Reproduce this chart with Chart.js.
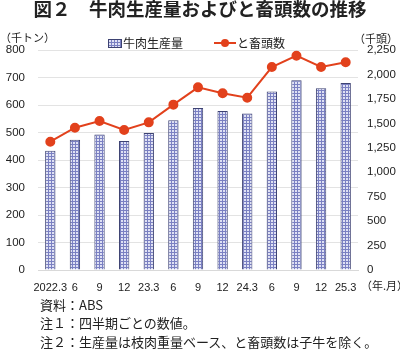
<!DOCTYPE html>
<html>
<head>
<meta charset="utf-8">
<script src="https://cdn.jsdelivr.net/npm/chart.js@4"></script>
<style>
  body { margin: 0; background: #fff; }
  #wrap { position: relative; width: 400px; height: 353px; color: #222; }
  #chart { position: absolute; left: 0; top: 0; }
  .txt { position: absolute; white-space: nowrap; font-family: "Noto Sans CJK JP", sans-serif; }
  #title { left: 0; width: 400px; top: -2px; text-align: center; font-size: 18.5px; font-weight: bold; line-height: 20px; }
  .unit { font-size: 11px; }
  .leg { font-size: 12px; line-height: 14px; }
  .note { left: 40px; font-size: 13px; line-height: 16px; }
  .mark { position: absolute; }
</style>
</head>
<body>
<div id="wrap">
  <canvas id="chart" width="400" height="353"></canvas>
  <div class="txt" id="title">図２　牛肉生産量およびと畜頭数の推移</div>
  <div class="txt unit" style="left:0px; top:29px;">（千トン）</div>
  <div class="txt unit" style="left:354px; top:30px;">（千頭）</div>
  <div class="txt unit" style="left:361px; top:277px;">（年.月）</div>
  <canvas class="mark" id="mark-bar" width="14" height="9" style="left:108px; top:39px;"></canvas>
  <div class="txt leg" style="left:123px; top:36px;">牛肉生産量</div>
  <canvas class="mark" id="mark-line" width="22" height="10" style="left:214px; top:38px;"></canvas>
  <div class="txt leg" style="left:237px; top:36px;">と畜頭数</div>
  <div class="txt note" style="top:297px;">資料：ABS</div>
  <div class="txt note" style="top:315px;">注１：四半期ごとの数値。</div>
  <div class="txt note" style="top:334px;">注２：生産量は枝肉重量ベース、と畜頭数は子牛を除く。</div>
</div>
<script>
// 四半期ラベル
const labels = ["2022.3", "6", "9", "12", "23.3", "6", "9", "12", "24.3", "6", "9", "12", "25.3"];
// 牛肉生産量（千トン）
const production = [434, 474, 493, 469, 498, 545, 589, 578, 569, 649, 690, 661, 680];
// と畜頭数（千頭）
const slaughter = [1312, 1455, 1524, 1432, 1510, 1691, 1868, 1807, 1762, 2076, 2192, 2076, 2124];
const leftTicks = [0, 100, 200, 300, 400, 500, 600, 700, 800];
const rightTicks = [0, 250, 500, 750, 1000, 1250, 1500, 1750, 2000, 2250];

const numFont = '"Liberation Sans", Arial, sans-serif';
const lineColor = '#e2411c';
const barBorder = '#3d4272';

// 棒の格子模様
function makePattern(g0) {
    const c = document.createElement('canvas');
    c.width = 3; c.height = 3;
    const g = c.getContext('2d');
    g.fillStyle = '#dfe1f4';
    g.fillRect(0, 0, 3, 3);
    g.fillStyle = '#7a80c2';
    g.fillRect(0, 0, 3, 1);
    g.fillRect(0, 0, 1, 3);
    return g0.createPattern(c, 'repeat');
}

// 凡例マーク
(function() {
    const g = document.getElementById('mark-bar').getContext('2d');
    g.fillStyle = makePattern(g);
    g.fillRect(0, 0, 14, 9);
    g.strokeStyle = barBorder;
    g.lineWidth = 1;
    g.strokeRect(0.5, 0.5, 13, 8);

    const h = document.getElementById('mark-line').getContext('2d');
    h.strokeStyle = lineColor;
    h.lineWidth = 2;
    h.beginPath(); h.moveTo(0, 5); h.lineTo(22, 5); h.stroke();
    h.fillStyle = lineColor;
    h.beginPath(); h.arc(11, 5, 4, 0, Math.PI * 2); h.fill();
})();

const ctx = document.getElementById('chart').getContext('2d');
Chart.defaults.color = '#222';

new Chart(ctx, {
    type: 'bar',
    data: {
        labels: labels,
        datasets: [{
            type: 'line',
            label: 'と畜頭数',
            data: slaughter,
            yAxisID: 'y2',
            borderColor: lineColor,
            backgroundColor: lineColor,
            borderWidth: 2,
            pointRadius: 4,
            pointHoverRadius: 4,
            tension: 0,
            order: 0
        }, {
            label: '牛肉生産量',
            data: production,
            yAxisID: 'y',
            backgroundColor: makePattern(ctx),
            borderColor: barBorder,
            borderWidth: 1,
            barPercentage: 0.42,
            categoryPercentage: 1,
            order: 1
        }]
    },
    options: {
        responsive: false,
        animation: false,
        layout: { padding: { top: 50, left: 0, right: 0, bottom: 61 } },
        plugins: {
            legend: { display: false },
            tooltip: { enabled: false }
        },
        scales: {
            x: {
                grid: { display: false },
                border: { display: true, color: '#d9d9d9' },
                ticks: { font: { size: 11, family: numFont }, maxRotation: 0, autoSkip: false, padding: 3 },
                afterFit: s => { s.height = 22; }
            },
            y: {
                position: 'left',
                min: 0, max: 800,
                afterBuildTicks: s => { s.ticks = leftTicks.map(v => ({ value: v })); },
                grid: { color: '#e3e3e3', drawTicks: false },
                border: { display: false },
                ticks: { font: { size: 11.5, family: numFont }, padding: 13 },
                afterFit: s => { s.width = 38; }
            },
            y2: {
                position: 'right',
                min: 0, max: 2250,
                afterBuildTicks: s => { s.ticks = rightTicks.map(v => ({ value: v })); },
                grid: { display: false, drawTicks: false },
                border: { display: false },
                ticks: {
                    font: { size: 11.5, family: numFont }, padding: 9,
                    callback: v => v.toLocaleString('en-US')
                },
                afterFit: s => { s.width = 42; }
            }
        }
    }
});
</script>
</body>
</html>
